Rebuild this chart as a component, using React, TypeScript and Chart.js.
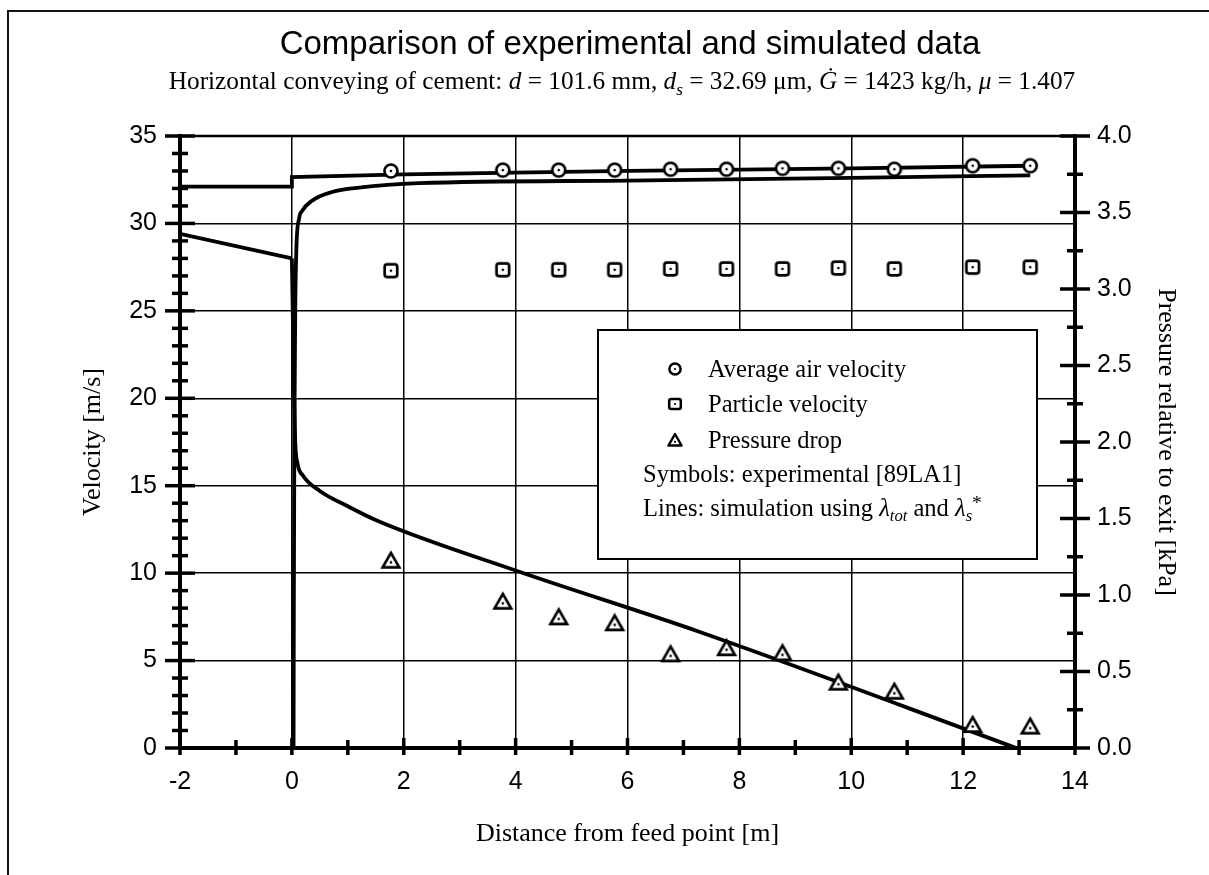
import React, { useEffect, useRef } from "react";
import { Chart, registerables } from "chart.js";

Chart.register(...registerables);

// ---- Experimental data (symbols) ----
const expDistance = [1.77, 3.77, 4.77, 5.77, 6.77, 7.77, 8.77, 9.77, 10.77, 12.17, 13.2];
const expAirVelocity = [33.0, 33.05, 33.05, 33.05, 33.1, 33.1, 33.15, 33.15, 33.1, 33.3, 33.3];
const expParticleVelocity = [27.3, 27.35, 27.35, 27.35, 27.4, 27.4, 27.4, 27.45, 27.4, 27.5, 27.5];
const expPressure = [1.224, 0.956, 0.854, 0.815, 0.612, 0.652, 0.619, 0.427, 0.368, 0.15, 0.14];

// ---- Simulation (lines) ----
const simAirX = [-2, 0, 0, 2, 6, 10, 13.2];
const simAirV = [32.1, 32.1, 32.65, 32.8, 33.0, 33.15, 33.3];
const simPartX = [0.03, 0.035, 0.045, 0.06, 0.08, 0.13, 0.18, 0.36, 0.72, 1.2, 2.27, 6, 10, 13.2];
const simPartV = [0, 8, 18, 25, 28.5, 30.3, 30.7, 31.3, 31.8, 32.05, 32.3, 32.45, 32.6, 32.75];
// pressure before the feed point (straight) and after it
const simPressPreX = [-2, 0];
const simPressPreP = [3.36, 3.2];
const simPressX = [0, 0.02, 0.04, 0.06, 0.1, 0.2, 0.5, 1.0, 1.56, 4.0, 7.28, 12.95];
const simPressP = [3.2, 2.75, 2.3, 2.0, 1.86, 1.78, 1.68, 1.58, 1.48, 1.16, 0.76, 0];

// ---- Axis ticks ----
const xTickValues = [-2, 0, 2, 4, 6, 8, 10, 12, 14];
const velocityTickValues = [0, 5, 10, 15, 20, 25, 30, 35];
const pressureTickValues = [0, 0.5, 1.0, 1.5, 2.0, 2.5, 3.0, 3.5, 4.0];
const pressureTickLabels = ["0.0", "0.5", "1.0", "1.5", "2.0", "2.5", "3.0", "3.5", "4.0"];

const SANS = "'Liberation Sans', Arial, Helvetica, sans-serif";
const SERIF = "'Liberation Serif', 'Times New Roman', Times, serif";

function makeMarker(kind: "circle" | "square" | "triangle"): HTMLCanvasElement {
  const c = document.createElement("canvas");
  c.width = 22;
  c.height = 22;
  const g = c.getContext("2d")!;
  g.lineWidth = 2.7;
  g.strokeStyle = "#000";
  g.fillStyle = "#fff";
  g.beginPath();
  if (kind === "circle") {
    g.arc(11, 11, 6.5, 0, Math.PI * 2);
  } else if (kind === "square") {
    const x = 4.7, y = 4.7, w = 12.6, h = 12.6, r = 2.5;
    g.moveTo(x + r, y);
    g.lineTo(x + w - r, y);
    g.quadraticCurveTo(x + w, y, x + w, y + r);
    g.lineTo(x + w, y + h - r);
    g.quadraticCurveTo(x + w, y + h, x + w - r, y + h);
    g.lineTo(x + r, y + h);
    g.quadraticCurveTo(x, y + h, x, y + h - r);
    g.lineTo(x, y + r);
    g.quadraticCurveTo(x, y, x + r, y);
  } else {
    g.moveTo(11, 3.2);
    g.lineTo(19.3, 17.6);
    g.lineTo(2.7, 17.6);
    g.closePath();
  }
  g.fill();
  g.stroke();
  g.fillStyle = "#000";
  g.beginPath();
  g.arc(11, kind === "triangle" ? 12.6 : 11, 1.3, 0, Math.PI * 2);
  g.fill();
  return c;
}

const crossTicksPlugin = {
  id: "crossTicks",
  afterDraw(chart: any) {
    const { ctx, chartArea, scales } = chart;
    const { left, right, top, bottom } = chartArea;
    ctx.save();
    ctx.strokeStyle = "#000";
    ctx.lineCap = "butt";
    // top frame line
    ctx.lineWidth = 2.5;
    ctx.beginPath();
    ctx.moveTo(left - 2, top);
    ctx.lineTo(right + 2, top);
    ctx.stroke();

    ctx.lineWidth = 3.5;
    // left axis ticks (velocity): minor every 1, major every 5
    const ys = scales.y;
    for (let v = ys.min; v <= ys.max + 1e-9; v += 1) {
      const p = ys.getPixelForValue(v);
      const major = Math.abs(v % 5) < 1e-9;
      const a = major ? 15 : 8;
      ctx.beginPath();
      ctx.moveTo(left - a, p);
      ctx.lineTo(left + a, p);
      ctx.stroke();
    }
    // right axis ticks (pressure): minor every 0.25, major every 0.5
    const ps = scales.y1;
    for (let i = 0; i <= Math.round((ps.max - ps.min) / 0.25); i++) {
      const v = ps.min + i * 0.25;
      const p = ps.getPixelForValue(v);
      const major = i % 2 === 0;
      const a = major ? 15 : 8;
      ctx.beginPath();
      ctx.moveTo(right - a, p);
      ctx.lineTo(right + a, p);
      ctx.stroke();
    }
    // bottom axis ticks: minor every 1, major every 2
    const xs = scales.x;
    for (let v = xs.min; v <= xs.max + 1e-9; v += 1) {
      const p = xs.getPixelForValue(v);
      const major = Math.abs(v % 2) < 1e-9;
      const a = major ? 10 : 8;
      ctx.beginPath();
      ctx.moveTo(p, bottom - a);
      ctx.lineTo(p, bottom + 7);
      ctx.stroke();
    }
    ctx.restore();
  },
};

const subStyle: React.CSSProperties = { fontSize: "0.68em", verticalAlign: "-0.32em", lineHeight: 0 };
const supStyle: React.CSSProperties = { fontSize: "0.8em", verticalAlign: "0.35em", lineHeight: 0 };

function LegendSymbol({ kind, cx, cy }: { kind: string; cx: number; cy: number }) {
  const s = 18;
  return (
    <svg
      width={s}
      height={s}
      viewBox="0 0 18 18"
      style={{ position: "absolute", left: cx - s / 2, top: cy - s / 2 }}
    >
      {kind === "circle" && <circle cx={9} cy={9} r={5.6} fill="#fff" stroke="#000" strokeWidth={2.5} />}
      {kind === "square" && (
        <rect x={3.2} y={4} width={11.6} height={10} rx={2} fill="#fff" stroke="#000" strokeWidth={2.5} />
      )}
      {kind === "triangle" && (
        <polygon points="9,3 15.5,14.5 2.5,14.5" fill="#fff" stroke="#000" strokeWidth={2.5} strokeLinejoin="round" />
      )}
      <circle cx={9} cy={kind === "triangle" ? 10.8 : 9} r={1.1} fill="#000" />
    </svg>
  );
}

export default function App() {
  const canvasRef = useRef<HTMLCanvasElement>(null);

  useEffect(() => {
    const canvas = canvasRef.current;
    if (!canvas) return;
    const circleImg = makeMarker("circle");
    const squareImg = makeMarker("square");
    const triangleImg = makeMarker("triangle");

    const toPts = (xs: number[], ys: number[]) => xs.map((x, i) => ({ x, y: ys[i] }));

    const lineBase = {
      borderColor: "#000",
      borderWidth: 3.8,
      pointRadius: 0,
      fill: false,
    };

    const chart = new Chart(canvas, {
      type: "line",
      data: {
        datasets: [
          {
            label: "Average air velocity (experimental)",
            data: toPts(expDistance, expAirVelocity),
            yAxisID: "y",
            showLine: false,
            pointStyle: circleImg as any,
            pointRadius: 7,
            borderColor: "#000",
            backgroundColor: "#fff",
          },
          {
            label: "Particle velocity (experimental)",
            data: toPts(expDistance, expParticleVelocity),
            yAxisID: "y",
            showLine: false,
            pointStyle: squareImg as any,
            pointRadius: 7,
            borderColor: "#000",
            backgroundColor: "#fff",
          },
          {
            label: "Pressure drop (experimental)",
            data: toPts(expDistance, expPressure),
            yAxisID: "y1",
            showLine: false,
            pointStyle: triangleImg as any,
            pointRadius: 7,
            borderColor: "#000",
            backgroundColor: "#fff",
          },
          {
            ...lineBase,
            label: "Air velocity (simulation)",
            data: toPts(simAirX, simAirV),
            yAxisID: "y",
            tension: 0,
          },
          {
            ...lineBase,
            label: "Particle velocity (simulation)",
            data: toPts(simPartX, simPartV),
            yAxisID: "y",
            cubicInterpolationMode: "monotone",
          },
          {
            ...lineBase,
            label: "Pressure before feed point (simulation)",
            data: toPts(simPressPreX, simPressPreP),
            yAxisID: "y1",
            tension: 0,
          },
          {
            ...lineBase,
            label: "Pressure (simulation)",
            data: toPts(simPressX, simPressP),
            yAxisID: "y1",
            cubicInterpolationMode: "monotone",
          },
        ],
      },
      options: {
        responsive: false,
        animation: false,
        devicePixelRatio: 1,
        layout: { padding: { top: 136, left: 0, right: 0, bottom: 0 } },
        plugins: {
          legend: { display: false },
          title: { display: false },
          tooltip: { enabled: false },
        },
        scales: {
          x: {
            type: "linear",
            position: "bottom",
            min: -2,
            max: 14,
            afterBuildTicks: (s: any) => {
              s.ticks = xTickValues.map((v) => ({ value: v }));
            },
            afterFit: (s: any) => {
              s.height = 875 - 748;
            },
            ticks: {
              color: "#000",
              font: { family: SANS, size: 25 },
              padding: 19,
              maxRotation: 0,
              autoSkip: false,
              callback: (v: any) => String(v),
            },
            grid: {
              drawTicks: false,
              color: "#000",
              lineWidth: 1.5,
            },
            border: { color: "#000", width: 4 },
            title: {
              display: true,
              text: "Distance from feed point [m]",
              color: "#000",
              font: { family: SERIF, size: 26 },
              padding: { top: 0, bottom: 25 },
            },
          },
          y: {
            type: "linear",
            position: "left",
            min: 0,
            max: 35,
            afterBuildTicks: (s: any) => {
              s.ticks = velocityTickValues.map((v) => ({ value: v }));
            },
            afterFit: (s: any) => {
              s.width = 180;
            },
            ticks: {
              color: "#000",
              font: { family: SANS, size: 25 },
              padding: 23,
              callback: (v: any) => String(v),
            },
            grid: {
              drawTicks: false,
              color: "#000",
              lineWidth: 1.5,
            },
            border: { color: "#000", width: 4 },
            title: {
              display: true,
              text: "Velocity [m/s]",
              color: "#000",
              font: { family: SERIF, size: 26 },
              padding: { top: 78, bottom: 0 },
            },
          },
          y1: {
            type: "linear",
            position: "right",
            min: 0,
            max: 4,
            afterBuildTicks: (s: any) => {
              s.ticks = pressureTickValues.map((v) => ({ value: v }));
            },
            afterFit: (s: any) => {
              s.width = 1209 - 1075;
            },
            ticks: {
              color: "#000",
              font: { family: SANS, size: 25 },
              padding: 22,
              callback: (_v: any, i: number) => pressureTickLabels[i],
            },
            grid: { display: false, drawTicks: false },
            border: { color: "#000", width: 4 },
            title: {
              display: true,
              text: "Pressure relative to exit [kPa]",
              color: "#000",
              font: { family: SERIF, size: 26 },
              padding: { top: 28, bottom: 0 },
            },
          },
        },
      },
      plugins: [crossTicksPlugin],
    } as any);

    return () => chart.destroy();
  }, []);

  // legend box geometry (page coordinates), children are relative to inside of border
  const LBX = 597;
  const LBY = 329;
  const B = 2;
  const rel = (x: number, y: number) => ({ left: x - LBX - B, top: y - LBY - B });

  const rowStyle = (x: number, baselineY: number): React.CSSProperties => ({
    position: "absolute",
    ...rel(x, baselineY - 20.5),
    lineHeight: "24.5px",
    whiteSpace: "nowrap",
  });

  return (
    <div
      style={{
        position: "absolute",
        left: 0,
        top: 0,
        width: 1209,
        height: 875,
        background: "#fff",
        overflow: "hidden",
      }}
    >
      <canvas
        ref={canvasRef}
        width={1209}
        height={875}
        style={{ position: "absolute", left: 0, top: 0, width: 1209, height: 875 }}
      />
      {/* page frame */}
      <div
        style={{
          position: "absolute",
          left: 7,
          top: 10,
          width: 1300,
          height: 1000,
          borderTop: "2px solid #111",
          borderLeft: "2px solid #111",
          pointerEvents: "none",
        }}
      />
      {/* title */}
      <div
        style={{
          position: "absolute",
          left: 630 - 500,
          top: 26,
          width: 1000,
          textAlign: "center",
          fontFamily: SANS,
          fontSize: 33,
          lineHeight: "33px",
          color: "#000",
          whiteSpace: "nowrap",
        }}
      >
        Comparison of experimental and simulated data
      </div>
      {/* subtitle */}
      <div
        style={{
          position: "absolute",
          left: 622 - 550,
          top: 68,
          width: 1100,
          textAlign: "center",
          fontFamily: SERIF,
          fontSize: 25.3,
          lineHeight: "25px",
          color: "#000",
          whiteSpace: "nowrap",
        }}
      >
        Horizontal conveying of cement: <i>d</i> = 101.6 mm, <i>d</i>
        <sub style={subStyle}>
          <i>s</i>
        </sub>{" "}
        = 32.69 μm, <i>Ġ</i> = 1423 kg/h, <i>μ</i> = 1.407
      </div>
      {/* legend */}
      <div
        style={{
          position: "absolute",
          left: LBX,
          top: LBY,
          width: 1038 - LBX,
          height: 560 - LBY,
          boxSizing: "border-box",
          border: `${B}px solid #000`,
          background: "#fff",
          fontFamily: SERIF,
          fontSize: 24.5,
          color: "#000",
        }}
      >
        <LegendSymbol kind="circle" {...{ cx: 675 - LBX - B, cy: 369 - LBY - B }} />
        <div style={rowStyle(708, 377)}>Average air velocity</div>
        <LegendSymbol kind="square" {...{ cx: 675 - LBX - B, cy: 404 - LBY - B }} />
        <div style={rowStyle(708, 412)}>Particle velocity</div>
        <LegendSymbol kind="triangle" {...{ cx: 675 - LBX - B, cy: 440 - LBY - B }} />
        <div style={rowStyle(708, 448)}>Pressure drop</div>
        <div style={rowStyle(643, 482)}>Symbols: experimental [89LA1]</div>
        <div style={rowStyle(643, 516)}>
          Lines: simulation using <i>λ</i>
          <sub style={subStyle}>
            <i>tot</i>
          </sub>{" "}
          and <i>λ</i>
          <sub style={subStyle}>
            <i>s</i>
          </sub>
          <sup style={supStyle}>*</sup>
        </div>
      </div>
    </div>
  );
}
